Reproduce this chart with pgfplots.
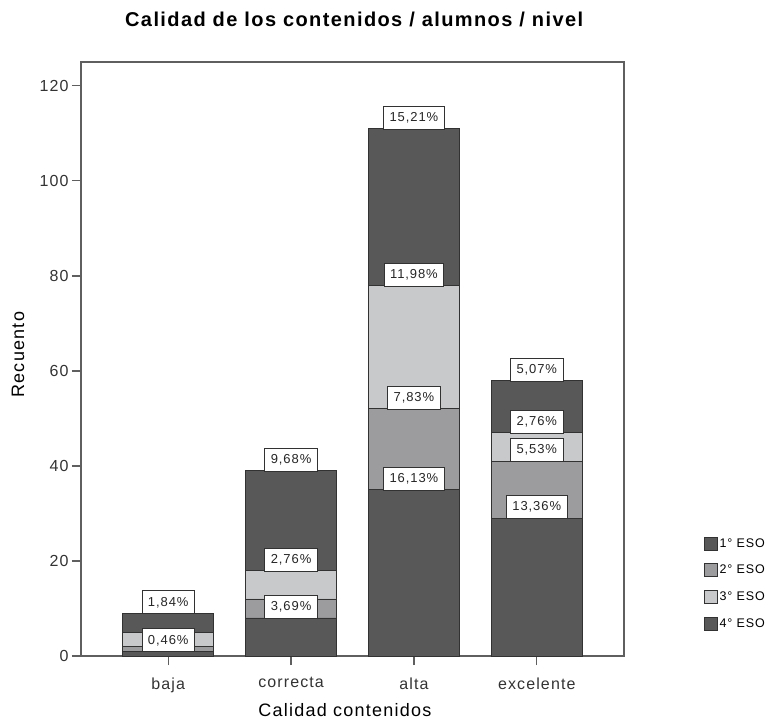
\documentclass[border=0pt]{standalone}
\usepackage{fontspec}
\setmainfont[LetterSpace=7]{Liberation Sans}
\usepackage{pgfplots}
\usepackage{pgfplotstable}
\pgfplotsset{compat=1.18}
\definecolor{cdark}{RGB}{88,88,88}
\definecolor{cmed}{RGB}{156,156,158}
\definecolor{clight}{RGB}{200,201,203}
\definecolor{cedge}{RGB}{50,50,50}
\definecolor{caxis}{RGB}{95,95,95}

% counts per level (x = 0 baja, 1 correcta, 2 alta, 3 excelente)
\pgfplotstableread{
x y
0 1
1 8
2 35
3 29
}\primero
\pgfplotstableread{
x y
0 1
1 4
2 17
3 12
}\segundo
\pgfplotstableread{
x y
0 3
1 6
2 26
3 6
}\tercero
\pgfplotstableread{
x y
0 4
1 21
2 33
3 11
}\cuarto
% visible percentage labels, at the top of their segment
\pgfplotstableread{
x y label
0 1 0,46\%
0 9 1,84\%
1 8 3,69\%
1 18 2,76\%
1 39 9,68\%
2 35 16,13\%
2 52 7,83\%
2 78 11,98\%
2 111 15,21\%
3 29 13,36\%
3 41 5,53\%
3 47 2,76\%
3 58 5,07\%
}\etiquetas

\pgfplotsset{
  geom/.style={
    at={(0pt,0pt)}, anchor=south west,
    scale only axis, width=543pt, height=594pt,
    xmin=-0.71, xmax=3.71, ymin=0, ymax=125,
  }
}

\begin{document}
\begin{tikzpicture}
\useasboundingbox (-81pt,-65pt) rectangle (685pt,656pt);
\begin{axis}[
  geom,
  ybar stacked, bar width=91pt,
  xtick={0,1,2,3}, xticklabels={baja,correcta,alta,excelente},
  ytick={0,20,40,60,80,100,120},
  xtick pos=bottom, ytick pos=left,
  tick align=outside, major tick length=9pt,
  axis line style={draw=caxis, line width=1.6pt},
  every tick/.style={draw=caxis, line width=1.4pt},
  tick label style={font=\fontsize{16}{19}\selectfont, text=black!80},
  xticklabel style={yshift=-9pt},
  yticklabel style={xshift=0pt},
  /pgf/number format/assume math mode=true,
  title={Calidad de los contenidos / alumnos / nivel},
  title style={font=\bfseries\fontsize{20}{23}\selectfont, at={(axis description cs:0.503,1.061)}, anchor=center},
  xlabel={Calidad contenidos},
  xlabel style={font=\fontsize{18}{21}\selectfont, at={(axis description cs:0.486,-0.091)}, anchor=center},
  ylabel={Recuento},
  ylabel style={font=\fontsize{18}{21}\selectfont, at={(axis description cs:-0.116,0.507)}, anchor=center},
  legend style={at={(1.141,0.205)}, anchor=north west, draw=none, fill=none,
    font=\fontsize{12.5}{15}\selectfont, row sep=12.5pt,
    /tikz/every even column/.append style={column sep=0pt}},
  legend cell align=left,
  legend image code/.code={\draw[#1, line width=0.8pt] (0pt,-6.5pt) rectangle (13pt,6.5pt);},
]
\addplot[fill=cdark, draw=cedge, line width=0.8pt] table[x=x,y=y] {\primero};
\addlegendentry{1° ESO}
\addplot[fill=cmed, draw=cedge, line width=0.8pt] table[x=x,y=y] {\segundo};
\addlegendentry{2° ESO}
\addplot[fill=clight, draw=cedge, line width=0.8pt] table[x=x,y=y] {\tercero};
\addlegendentry{3° ESO}
\addplot[fill=cdark, draw=cedge, line width=0.8pt] table[x=x,y=y] {\cuarto};
\addlegendentry{4° ESO}
\draw[draw=caxis, line width=1.6pt] (rel axis cs:0,0) rectangle (rel axis cs:1,1);
\end{axis}
% overlay axis holding the percentage labels
\begin{axis}[
  geom, hide axis, clip=false,
  ybar, bar width=91pt, bar shift=0pt,
]
\addplot[draw=none, fill=none,
  nodes near coords, point meta=explicit symbolic,
  every node near coord/.style={anchor=south, fill=white, draw=cedge, line width=0.8pt,
    font=\fontsize{13}{16}\selectfont, text=black!85, inner xsep=6pt, minimum height=23pt, inner ysep=2pt, yshift=-1pt}]
  table[x=x, y=y, meta=label] {\etiquetas};
\end{axis}
\end{tikzpicture}
\end{document}
